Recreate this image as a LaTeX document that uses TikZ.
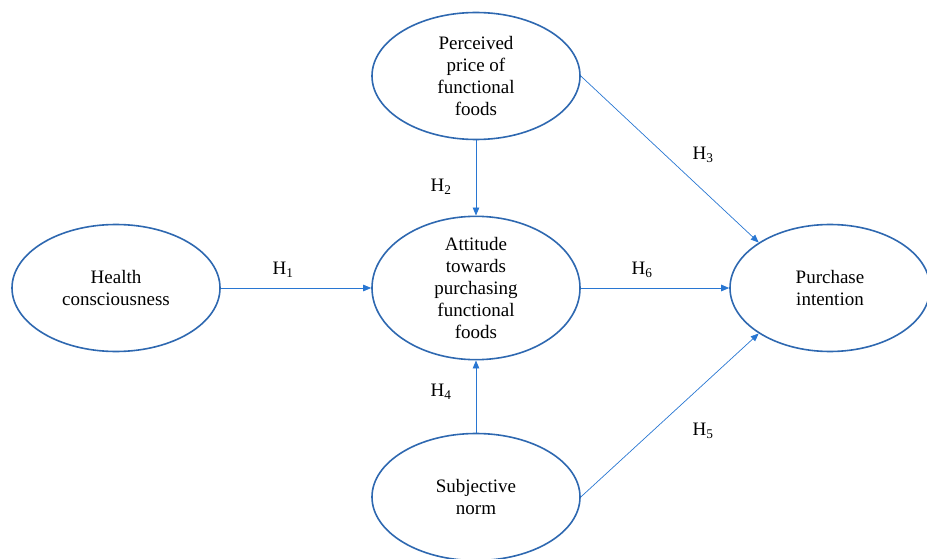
\documentclass[tikz,border=0pt]{standalone}
\usepackage{fontspec}
\setmainfont{Liberation Serif}
\usetikzlibrary{shapes.geometric,arrows.meta}
\definecolor{ellblue}{RGB}{46,104,176}
\definecolor{arrblue}{RGB}{40,118,210}
\tikzset{
  construct/.style={ellipse, draw=ellblue, line width=1.6pt, inner sep=0pt,
    minimum width=208pt, minimum height=127pt, align=center,
    font=\fontsize{19}{22}\selectfont},
  link/.style={draw=arrblue, line width=0.9pt, -{Triangle[length=8pt,width=6.5pt]}},
  hyp/.style={font=\fontsize{19}{20}\selectfont, inner sep=0pt}
}
\begin{document}
\begin{tikzpicture}[x=1pt,y=-1pt]
\useasboundingbox (0,0) rectangle (927,559);
\node[construct] (perc) at (476,76) {Perceived\\price of\\functional\\foods};
\node[construct] (health) at (116,288) {Health\\consciousness};
\node[construct] (att) at (476,288) {Attitude\\towards\\purchasing\\functional\\foods};
\node[construct, minimum width=200pt] (purch) at (830,288) {Purchase\\intention};
\node[construct] (subj) at (476,497) {Subjective\\norm};

\draw[link] (health.east) -- (att.west);
\draw[link] (perc.south) -- (att.north);
\draw[link] (subj.north) -- (att.south);
\draw[link] (att.east) -- (purch.west);
\draw[link, line width=0.7pt] (perc.east) -- (purch.north west);
\draw[link, line width=0.7pt] (subj.east) -- (purch.south west);

\node[hyp] (h1) at (283,270) {H\textsubscript{1}};
\node[hyp] (h2) at (441,187) {H\textsubscript{2}};
\node[hyp] (h3) at (703,155) {H\textsubscript{3}};
\node[hyp] (h4) at (441,392) {H\textsubscript{4}};
\node[hyp] (h5) at (703,431) {H\textsubscript{5}};
\node[hyp] (h6) at (642,270) {H\textsubscript{6}};
\end{tikzpicture}
\end{document}
